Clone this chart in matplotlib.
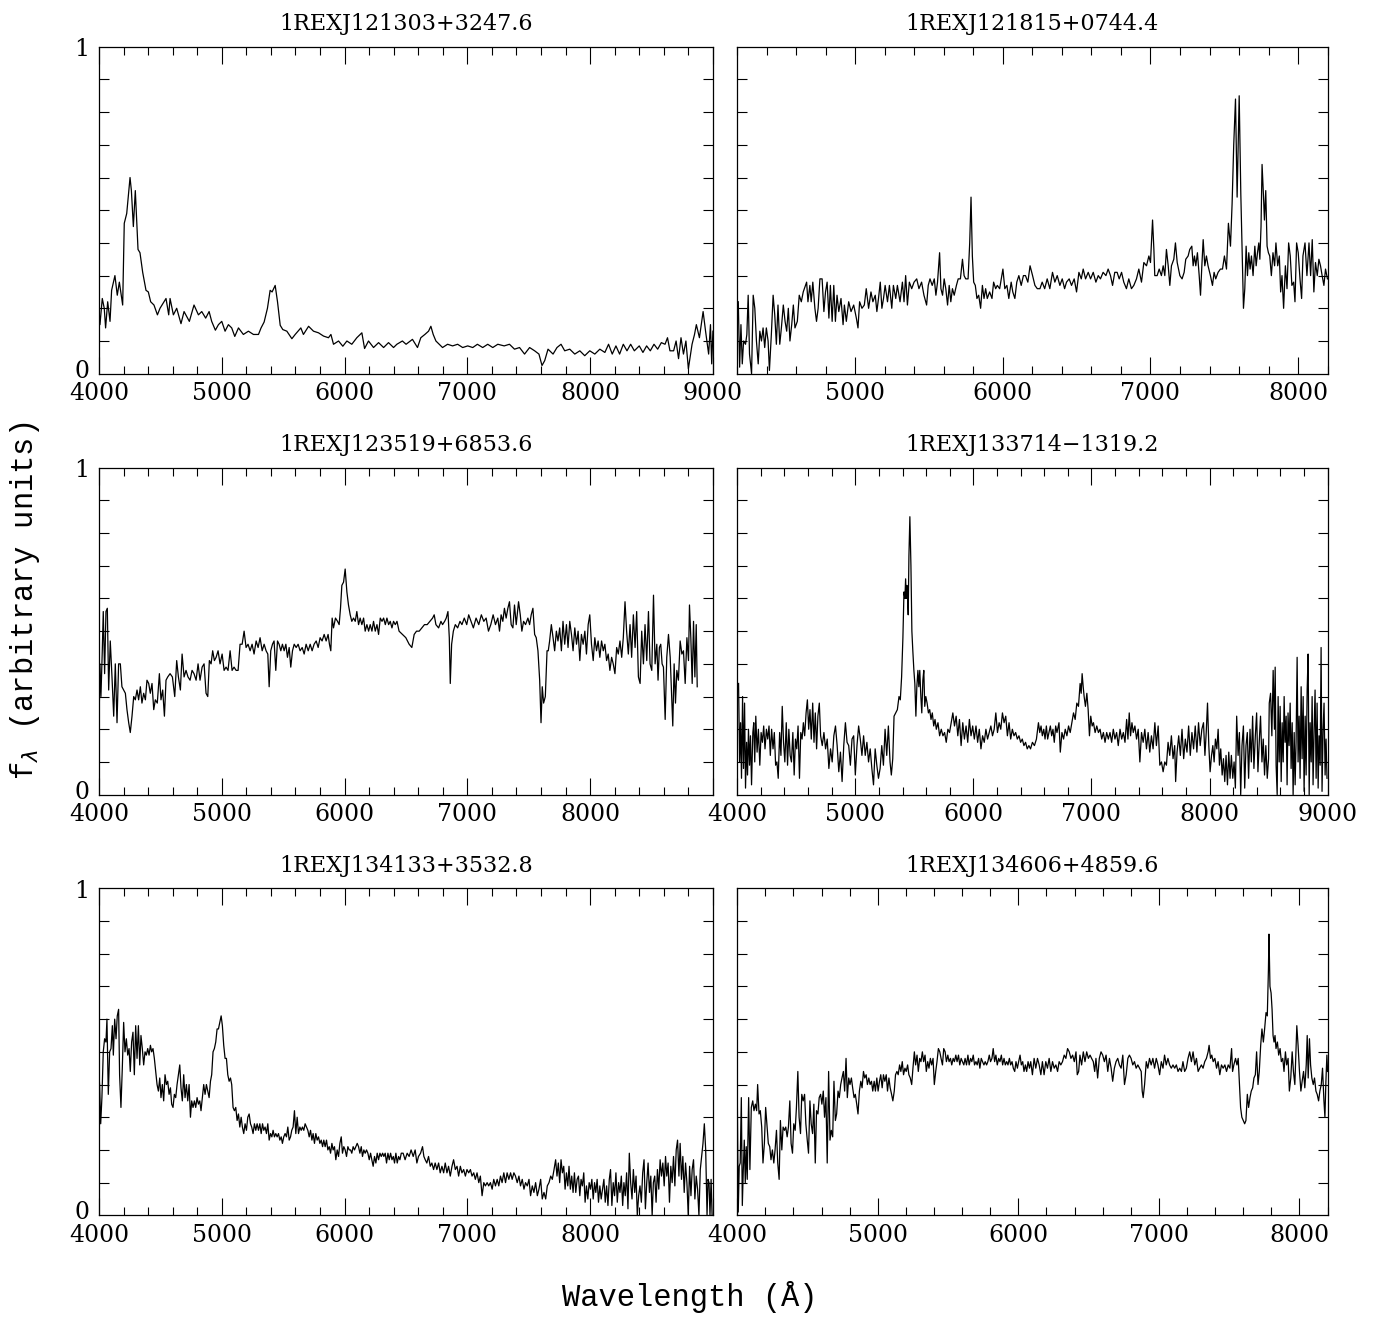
import matplotlib
matplotlib.use("Agg")
import matplotlib.pyplot as plt
from matplotlib.ticker import MultipleLocator

# ---- data (normalised flux, arbitrary units) ----
names = ["1REXJ121303+3247.6", "1REXJ121815+0744.4",
         "1REXJ123519+6853.6", "1REXJ133714\u22121319.2",
         "1REXJ134133+3532.8", "1REXJ134606+4859.6"]

xlims = [(4000, 9000), (4200, 8200), (4000, 9000), (4000, 9000), (4000, 9000), (4000, 8200)]
xticklabels = [[4000, 5000, 6000, 7000, 8000, 9000], [5000, 6000, 7000, 8000],
               [4000, 5000, 6000, 7000, 8000], [4000, 5000, 6000, 7000, 8000, 9000],
               [4000, 5000, 6000, 7000, 8000], [4000, 5000, 6000, 7000, 8000]]

wl_a = [4000, 4008, 4027, 4043, 4054, 4071, 4090, 4103, 4130, 4149, 4166, 4193, 4206, 4226, 4253, 4264,
        4280, 4296, 4318, 4334, 4356, 4383, 4402, 4421, 4448, 4476, 4497, 4546, 4568, 4579, 4606, 4633,
        4668, 4693, 4736, 4774, 4810, 4837, 4869, 4897, 4918, 4948, 4973, 5000, 5027, 5054, 5081, 5106,
        5136, 5176, 5217, 5258, 5299, 5320, 5345, 5372, 5394, 5410, 5435, 5454, 5476, 5497, 5530, 5571,
        5598, 5644, 5665, 5707, 5747, 5788, 5829, 5869, 5889, 5910, 5951, 5986, 6019, 6059, 6100, 6141,
        6163, 6195, 6236, 6277, 6318, 6358, 6399, 6426, 6471, 6501, 6553, 6594, 6621, 6654, 6684, 6703,
        6722, 6744, 6771, 6798, 6839, 6880, 6921, 6962, 7003, 7044, 7082, 7125, 7166, 7207, 7248, 7300,
        7343, 7384, 7425, 7466, 7507, 7548, 7583, 7608, 7630, 7657, 7698, 7730, 7763, 7793, 7834, 7875,
        7916, 7956, 7997, 8038, 8079, 8120, 8150, 8180, 8210, 8240, 8270, 8300, 8330, 8360, 8400, 8430,
        8460, 8490, 8520, 8550, 8580, 8610, 8630, 8650, 8680, 8700, 8720, 8740, 8760, 8780, 8800, 8830,
        8850, 8865, 8890, 8920, 8940, 8965, 8980, 8990, 9000]
fl_a = [0.20, 0.15, 0.23, 0.20, 0.14, 0.22, 0.16, 0.255, 0.30, 0.24, 0.28, 0.21, 0.46, 0.49, 0.60, 0.56,
        0.45, 0.56, 0.38, 0.37, 0.31, 0.255, 0.25, 0.22, 0.21, 0.18, 0.20, 0.23, 0.18, 0.23, 0.18, 0.20,
        0.153, 0.19, 0.16, 0.21, 0.18, 0.19, 0.17, 0.19, 0.16, 0.133, 0.15, 0.16, 0.13, 0.15, 0.14, 0.114,
        0.14, 0.12, 0.13, 0.12, 0.12, 0.14, 0.158, 0.20, 0.255, 0.25, 0.27, 0.22, 0.148, 0.135, 0.13, 0.107,
        0.12, 0.14, 0.12, 0.145, 0.13, 0.125, 0.115, 0.11, 0.12, 0.09, 0.10, 0.084, 0.10, 0.09, 0.11, 0.125,
        0.077, 0.10, 0.08, 0.095, 0.08, 0.095, 0.08, 0.09, 0.10, 0.09, 0.105, 0.08, 0.11, 0.12, 0.13, 0.145,
        0.12, 0.10, 0.09, 0.08, 0.09, 0.085, 0.09, 0.08, 0.085, 0.08, 0.09, 0.08, 0.09, 0.08, 0.09, 0.085,
        0.09, 0.075, 0.08, 0.06, 0.08, 0.07, 0.06, 0.025, 0.04, 0.075, 0.06, 0.08, 0.09, 0.07, 0.075, 0.06,
        0.07, 0.055, 0.07, 0.06, 0.075, 0.065, 0.09, 0.06, 0.085, 0.06, 0.09, 0.07, 0.09, 0.07, 0.085, 0.065,
        0.085, 0.07, 0.09, 0.075, 0.095, 0.09, 0.11, 0.07, 0.07, 0.10, 0.046, 0.11, 0.06, 0.10, 0.015, 0.09,
        0.12, 0.15, 0.11, 0.19, 0.13, 0.06, 0.15, 0.03, 0.13]

wl_b = [4207, 4216, 4225, 4234, 4243, 4256, 4265, 4274, 4283, 4297, 4308, 4319, 4330, 4342, 4353, 4364,
        4375, 4386, 4397, 4409, 4418, 4431, 4443, 4454, 4465, 4476, 4488, 4499, 4512, 4524, 4535, 4546,
        4557, 4569, 4580, 4591, 4607, 4620, 4634, 4647, 4670, 4679, 4692, 4701, 4712, 4726, 4737, 4748,
        4760, 4775, 4787, 4798, 4809, 4821, 4831, 4843, 4854, 4865, 4876, 4888, 4903, 4917, 4926, 4939,
        4955, 4971, 4989, 5007, 5018, 5029, 5045, 5061, 5074, 5090, 5106, 5119, 5135, 5146, 5157, 5169,
        5180, 5191, 5202, 5218, 5231, 5247, 5258, 5274, 5285, 5303, 5319, 5330, 5341, 5353, 5366, 5382,
        5398, 5416, 5431, 5449, 5465, 5483, 5494, 5506, 5521, 5535, 5546, 5557, 5571, 5580, 5591, 5602,
        5613, 5625, 5636, 5647, 5658, 5670, 5685, 5697, 5712, 5726, 5737, 5748, 5764, 5775, 5784, 5793,
        5802, 5813, 5824, 5836, 5849, 5861, 5872, 5883, 5894, 5910, 5926, 5937, 5951, 5962, 5978, 5989,
        6000, 6013, 6027, 6040, 6056, 6067, 6081, 6094, 6108, 6124, 6139, 6153, 6169, 6184, 6201, 6217,
        6233, 6251, 6266, 6283, 6300, 6318, 6336, 6352, 6368, 6386, 6402, 6418, 6431, 6449, 6465, 6483,
        6499, 6515, 6531, 6544, 6560, 6578, 6594, 6612, 6630, 6646, 6661, 6679, 6698, 6713, 6729, 6743,
        6758, 6774, 6788, 6804, 6819, 6837, 6853, 6871, 6887, 6905, 6921, 6939, 6955, 6973, 6989, 7000,
        7014, 7023, 7029, 7045, 7059, 7074, 7086, 7097, 7108, 7120, 7131, 7142, 7158, 7169, 7181, 7199,
        7214, 7228, 7239, 7255, 7266, 7280, 7289, 7298, 7307, 7318, 7330, 7339, 7348, 7357, 7368, 7379,
        7390, 7406, 7420, 7431, 7442, 7458, 7474, 7488, 7501, 7515, 7528, 7542, 7553, 7564, 7576, 7587,
        7601, 7612, 7621, 7630, 7639, 7648, 7657, 7666, 7675, 7684, 7695, 7707, 7716, 7725, 7734, 7741,
        7749, 7756, 7765, 7772, 7781, 7790, 7799, 7808, 7819, 7830, 7841, 7850, 7862, 7873, 7882, 7891,
        7902, 7914, 7925, 7936, 7947, 7958, 7970, 7979, 7990, 8001, 8013, 8024, 8033, 8047, 8060, 8074,
        8085, 8096, 8107, 8118, 8130, 8141, 8152, 8163, 8175, 8186, 8199]
fl_b = [0.22, 0.02, 0.15, 0.03, 0.10, 0.09, 0.12, 0.24, 0.06, 0.00, 0.24, 0.20, 0.10, 0.03, 0.13, 0.10,
        0.14, 0.08, 0.14, 0.10, 0.01, 0.12, 0.24, 0.18, 0.09, 0.21, 0.09, 0.14, 0.21, 0.16, 0.13, 0.20,
        0.10, 0.15, 0.21, 0.14, 0.16, 0.24, 0.22, 0.25, 0.28, 0.22, 0.27, 0.22, 0.28, 0.20, 0.16, 0.20,
        0.29, 0.29, 0.19, 0.25, 0.28, 0.17, 0.27, 0.16, 0.27, 0.16, 0.24, 0.19, 0.23, 0.15, 0.21, 0.16,
        0.22, 0.19, 0.21, 0.17, 0.14, 0.22, 0.20, 0.21, 0.26, 0.20, 0.25, 0.22, 0.24, 0.19, 0.23, 0.28,
        0.20, 0.23, 0.27, 0.22, 0.27, 0.20, 0.27, 0.23, 0.27, 0.22, 0.28, 0.22, 0.30, 0.21, 0.28, 0.26,
        0.28, 0.29, 0.26, 0.28, 0.24, 0.21, 0.27, 0.29, 0.27, 0.29, 0.24, 0.28, 0.37, 0.26, 0.24, 0.29,
        0.26, 0.21, 0.27, 0.22, 0.26, 0.24, 0.27, 0.29, 0.29, 0.35, 0.30, 0.29, 0.29, 0.40, 0.54, 0.36,
        0.28, 0.27, 0.23, 0.24, 0.20, 0.27, 0.23, 0.26, 0.23, 0.25, 0.23, 0.28, 0.26, 0.27, 0.26, 0.29,
        0.32, 0.26, 0.27, 0.23, 0.28, 0.25, 0.23, 0.28, 0.30, 0.27, 0.30, 0.30, 0.28, 0.33, 0.30, 0.27,
        0.26, 0.26, 0.28, 0.26, 0.29, 0.26, 0.31, 0.28, 0.30, 0.27, 0.29, 0.26, 0.28, 0.29, 0.27, 0.29,
        0.25, 0.31, 0.29, 0.32, 0.29, 0.31, 0.29, 0.31, 0.28, 0.30, 0.29, 0.31, 0.30, 0.32, 0.30, 0.27,
        0.31, 0.31, 0.29, 0.31, 0.28, 0.26, 0.29, 0.26, 0.27, 0.29, 0.32, 0.28, 0.34, 0.33, 0.36, 0.34,
        0.47, 0.38, 0.30, 0.30, 0.32, 0.30, 0.33, 0.30, 0.38, 0.33, 0.27, 0.33, 0.35, 0.40, 0.34, 0.30,
        0.29, 0.31, 0.35, 0.36, 0.38, 0.39, 0.33, 0.36, 0.33, 0.37, 0.30, 0.24, 0.33, 0.41, 0.33, 0.36,
        0.33, 0.30, 0.27, 0.31, 0.29, 0.31, 0.32, 0.32, 0.36, 0.32, 0.46, 0.39, 0.52, 0.70, 0.84, 0.54,
        0.85, 0.55, 0.37, 0.20, 0.26, 0.39, 0.30, 0.37, 0.32, 0.36, 0.30, 0.39, 0.33, 0.37, 0.40, 0.35,
        0.45, 0.64, 0.55, 0.47, 0.56, 0.39, 0.37, 0.36, 0.30, 0.37, 0.33, 0.40, 0.33, 0.36, 0.25, 0.30,
        0.20, 0.33, 0.26, 0.40, 0.36, 0.27, 0.28, 0.22, 0.40, 0.37, 0.29, 0.23, 0.36, 0.40, 0.30, 0.40,
        0.30, 0.41, 0.25, 0.34, 0.30, 0.35, 0.33, 0.30, 0.27, 0.32, 0.29]

wl_c = [4000, 4008, 4016, 4027, 4035, 4046, 4057, 4068, 4079, 4092, 4106, 4120, 4133, 4147, 4160, 4174,
        4187, 4201, 4215, 4228, 4242, 4255, 4269, 4283, 4296, 4310, 4323, 4337, 4350, 4364, 4378, 4391,
        4405, 4418, 4432, 4446, 4459, 4475, 4492, 4505, 4519, 4533, 4546, 4560, 4579, 4598, 4617, 4633,
        4647, 4663, 4677, 4693, 4709, 4725, 4742, 4758, 4774, 4791, 4807, 4823, 4840, 4856, 4872, 4886,
        4899, 4913, 4926, 4940, 4954, 4970, 4986, 5003, 5019, 5035, 5051, 5068, 5084, 5100, 5117, 5133,
        5149, 5166, 5182, 5198, 5214, 5231, 5247, 5263, 5280, 5296, 5312, 5329, 5345, 5361, 5375, 5386,
        5399, 5413, 5426, 5440, 5454, 5467, 5481, 5494, 5508, 5522, 5535, 5549, 5562, 5576, 5590, 5606,
        5622, 5638, 5655, 5671, 5687, 5704, 5720, 5736, 5752, 5769, 5785, 5801, 5817, 5834, 5850, 5866,
        5877, 5888, 5899, 5910, 5926, 5943, 5956, 5967, 5978, 5992, 6005, 6019, 6032, 6046, 6059, 6073,
        6087, 6100, 6114, 6127, 6141, 6155, 6168, 6182, 6196, 6209, 6223, 6236, 6250, 6264, 6277, 6291,
        6305, 6318, 6332, 6345, 6359, 6372, 6386, 6399, 6413, 6427, 6444, 6471, 6499, 6526, 6548, 6567,
        6586, 6608, 6629, 6651, 6673, 6695, 6717, 6730, 6744, 6766, 6785, 6798, 6815, 6828, 6842, 6853,
        6861, 6872, 6886, 6902, 6921, 6940, 6956, 6975, 6995, 7011, 7030, 7049, 7071, 7093, 7114, 7134,
        7153, 7172, 7191, 7210, 7229, 7248, 7262, 7275, 7289, 7302, 7316, 7330, 7343, 7357, 7371, 7384,
        7398, 7417, 7431, 7444, 7458, 7474, 7493, 7507, 7520, 7534, 7548, 7561, 7575, 7589, 7600, 7610,
        7621, 7635, 7649, 7659, 7670, 7684, 7698, 7711, 7725, 7738, 7752, 7766, 7779, 7793, 7807, 7820,
        7834, 7848, 7861, 7875, 7889, 7902, 7916, 7929, 7943, 7957, 7970, 7984, 7997, 8011, 8025, 8038,
        8052, 8065, 8079, 8093, 8107, 8120, 8134, 8147, 8161, 8175, 8188, 8202, 8216, 8229, 8243, 8257,
        8270, 8284, 8297, 8311, 8325, 8338, 8352, 8366, 8379, 8393, 8407, 8420, 8434, 8447, 8461, 8475,
        8488, 8502, 8516, 8529, 8543, 8553, 8564, 8575, 8586, 8597, 8611, 8624, 8638, 8652, 8662, 8673,
        8684, 8695, 8706, 8719, 8733, 8747, 8760, 8774, 8788, 8801, 8809, 8820, 8831, 8842, 8853, 8864,
        8872]
fl_c = [0.20, 0.40, 0.30, 0.44, 0.56, 0.37, 0.56, 0.57, 0.32, 0.47, 0.36, 0.24, 0.40, 0.22, 0.40, 0.40,
        0.33, 0.32, 0.31, 0.26, 0.22, 0.19, 0.24, 0.30, 0.29, 0.32, 0.29, 0.33, 0.28, 0.31, 0.29, 0.35,
        0.34, 0.31, 0.34, 0.26, 0.29, 0.28, 0.37, 0.29, 0.32, 0.24, 0.35, 0.36, 0.37, 0.36, 0.30, 0.41,
        0.36, 0.32, 0.43, 0.36, 0.38, 0.36, 0.35, 0.38, 0.37, 0.35, 0.40, 0.35, 0.39, 0.40, 0.31, 0.30,
        0.41, 0.40, 0.44, 0.41, 0.42, 0.44, 0.40, 0.43, 0.38, 0.39, 0.38, 0.44, 0.38, 0.39, 0.38, 0.38,
        0.46, 0.46, 0.50, 0.45, 0.46, 0.44, 0.46, 0.43, 0.47, 0.45, 0.48, 0.44, 0.46, 0.44, 0.43, 0.33,
        0.44, 0.46, 0.47, 0.38, 0.47, 0.46, 0.44, 0.46, 0.44, 0.46, 0.42, 0.45, 0.39, 0.44, 0.46, 0.45,
        0.46, 0.44, 0.45, 0.43, 0.46, 0.44, 0.46, 0.44, 0.46, 0.47, 0.45, 0.48, 0.47, 0.49, 0.47, 0.49,
        0.46, 0.44, 0.54, 0.51, 0.54, 0.53, 0.52, 0.57, 0.64, 0.65, 0.69, 0.62, 0.58, 0.55, 0.53, 0.54,
        0.53, 0.56, 0.52, 0.54, 0.52, 0.54, 0.50, 0.52, 0.50, 0.52, 0.50, 0.53, 0.50, 0.52, 0.49, 0.54,
        0.53, 0.54, 0.52, 0.54, 0.52, 0.53, 0.51, 0.53, 0.52, 0.53, 0.50, 0.49, 0.48, 0.46, 0.45, 0.49,
        0.50, 0.50, 0.51, 0.52, 0.52, 0.53, 0.54, 0.55, 0.52, 0.51, 0.53, 0.52, 0.53, 0.54, 0.56, 0.48,
        0.34, 0.46, 0.50, 0.52, 0.51, 0.53, 0.52, 0.54, 0.52, 0.55, 0.53, 0.51, 0.54, 0.52, 0.55, 0.53,
        0.54, 0.50, 0.52, 0.55, 0.52, 0.54, 0.50, 0.55, 0.53, 0.57, 0.54, 0.57, 0.59, 0.52, 0.51, 0.58,
        0.52, 0.59, 0.55, 0.50, 0.53, 0.52, 0.54, 0.52, 0.55, 0.57, 0.49, 0.48, 0.44, 0.35, 0.22, 0.33,
        0.28, 0.30, 0.44, 0.44, 0.47, 0.52, 0.48, 0.44, 0.50, 0.47, 0.51, 0.44, 0.53, 0.46, 0.52, 0.45,
        0.53, 0.49, 0.44, 0.51, 0.46, 0.50, 0.41, 0.49, 0.46, 0.50, 0.43, 0.52, 0.55, 0.46, 0.41, 0.48,
        0.44, 0.47, 0.42, 0.47, 0.44, 0.46, 0.41, 0.43, 0.38, 0.42, 0.40, 0.37, 0.45, 0.43, 0.47, 0.42,
        0.48, 0.59, 0.50, 0.43, 0.52, 0.42, 0.55, 0.45, 0.56, 0.36, 0.34, 0.50, 0.40, 0.52, 0.41, 0.56,
        0.40, 0.38, 0.61, 0.40, 0.46, 0.35, 0.45, 0.46, 0.40, 0.39, 0.23, 0.42, 0.49, 0.42, 0.32, 0.21,
        0.40, 0.28, 0.38, 0.35, 0.47, 0.43, 0.44, 0.34, 0.48, 0.41, 0.58, 0.48, 0.34, 0.53, 0.36, 0.52,
        0.33]

wl_d = [4011, 4020, 4028, 4036, 4045, 4053, 4062, 4070, 4079, 4087, 4095, 4104, 4112, 4121, 4132, 4140,
        4148, 4157, 4168, 4179, 4191, 4202, 4213, 4224, 4235, 4247, 4258, 4269, 4280, 4291, 4303, 4314,
        4325, 4336, 4347, 4359, 4370, 4381, 4392, 4403, 4415, 4426, 4437, 4448, 4459, 4471, 4482, 4493,
        4504, 4515, 4527, 4538, 4549, 4560, 4571, 4583, 4594, 4605, 4616, 4627, 4639, 4650, 4661, 4672,
        4683, 4695, 4706, 4720, 4734, 4748, 4762, 4776, 4790, 4804, 4818, 4832, 4846, 4860, 4874, 4888,
        4902, 4916, 4930, 4944, 4958, 4972, 4986, 5000, 5014, 5028, 5042, 5056, 5070, 5084, 5098, 5112,
        5126, 5140, 5154, 5168, 5182, 5196, 5210, 5224, 5238, 5252, 5266, 5280, 5294, 5305, 5317, 5328,
        5342, 5356, 5370, 5381, 5392, 5403, 5412, 5420, 5426, 5431, 5437, 5442, 5448, 5454, 5462, 5471,
        5479, 5487, 5496, 5504, 5513, 5521, 5530, 5538, 5546, 5555, 5563, 5572, 5580, 5588, 5597, 5608,
        5619, 5630, 5641, 5652, 5664, 5675, 5686, 5700, 5714, 5728, 5742, 5756, 5770, 5784, 5798, 5812,
        5826, 5840, 5854, 5868, 5882, 5896, 5910, 5924, 5938, 5952, 5966, 5980, 5994, 6008, 6022, 6036,
        6050, 6064, 6078, 6092, 6106, 6120, 6134, 6148, 6162, 6176, 6190, 6204, 6218, 6232, 6246, 6260,
        6274, 6288, 6302, 6316, 6330, 6344, 6358, 6372, 6386, 6400, 6414, 6428, 6442, 6456, 6470, 6484,
        6500, 6517, 6534, 6551, 6562, 6573, 6584, 6596, 6607, 6618, 6629, 6640, 6652, 6663, 6674, 6685,
        6697, 6708, 6725, 6736, 6750, 6764, 6778, 6792, 6806, 6820, 6834, 6848, 6862, 6876, 6890, 6904,
        6913, 6921, 6930, 6938, 6949, 6961, 6972, 6983, 6994, 7006, 7017, 7031, 7045, 7059, 7073, 7087,
        7101, 7115, 7129, 7143, 7157, 7171, 7185, 7199, 7213, 7227, 7242, 7256, 7270, 7284, 7298, 7309,
        7320, 7331, 7343, 7354, 7368, 7382, 7396, 7410, 7424, 7438, 7452, 7466, 7480, 7494, 7508, 7522,
        7537, 7550, 7565, 7579, 7593, 7607, 7621, 7635, 7649, 7663, 7677, 7691, 7705, 7713, 7725, 7739,
        7753, 7767, 7781, 7795, 7809, 7823, 7837, 7851, 7865, 7879, 7893, 7907, 7921, 7935, 7949, 7961,
        7972, 7983, 7994, 8005, 8017, 8028, 8039, 8050, 8062, 8073, 8084, 8095, 8107, 8118, 8129, 8140,
        8152, 8163, 8174, 8185, 8197, 8208, 8219, 8230, 8242, 8253, 8264, 8275, 8287, 8298, 8309, 8320,
        8331, 8343, 8354, 8365, 8376, 8388, 8399, 8410, 8421, 8432, 8444, 8455, 8466, 8477, 8489, 8500,
        8506, 8517, 8528, 8539, 8550, 8556, 8564, 8573, 8581, 8590, 8598, 8607, 8615, 8624, 8632, 8640,
        8649, 8657, 8665, 8674, 8683, 8691, 8700, 8708, 8717, 8725, 8733, 8742, 8750, 8759, 8767, 8776,
        8784, 8793, 8801, 8810, 8818, 8827, 8835, 8844, 8852, 8861, 8869, 8877, 8886, 8894, 8903, 8911,
        8920, 8928, 8937, 8945, 8953, 8962, 8970, 8979, 8987, 8995]
fl_d = [0.34, 0.10, 0.22, 0.05, 0.30, 0.08, 0.28, 0.02, 0.16, 0.06, 0.20, 0.09, 0.18, 0.03, 0.19, 0.22,
        0.10, 0.24, 0.13, 0.20, 0.09, 0.19, 0.16, 0.21, 0.14, 0.20, 0.17, 0.21, 0.12, 0.20, 0.14, 0.19,
        0.09, 0.10, 0.05, 0.19, 0.12, 0.27, 0.16, 0.10, 0.22, 0.09, 0.20, 0.12, 0.10, 0.19, 0.06, 0.17,
        0.14, 0.21, 0.05, 0.19, 0.17, 0.22, 0.18, 0.25, 0.29, 0.20, 0.26, 0.17, 0.28, 0.16, 0.25, 0.14,
        0.24, 0.28, 0.18, 0.15, 0.19, 0.14, 0.17, 0.08, 0.14, 0.10, 0.18, 0.21, 0.15, 0.07, 0.13, 0.04,
        0.15, 0.22, 0.16, 0.15, 0.09, 0.17, 0.18, 0.06, 0.15, 0.21, 0.17, 0.12, 0.18, 0.12, 0.16, 0.10,
        0.14, 0.08, 0.03, 0.14, 0.09, 0.05, 0.08, 0.15, 0.09, 0.20, 0.12, 0.21, 0.10, 0.06, 0.11, 0.24,
        0.25, 0.26, 0.30, 0.29, 0.36, 0.48, 0.62, 0.60, 0.66, 0.60, 0.64, 0.61, 0.55, 0.73, 0.85, 0.70,
        0.50, 0.44, 0.38, 0.34, 0.24, 0.33, 0.38, 0.33, 0.38, 0.30, 0.25, 0.35, 0.38, 0.27, 0.30, 0.28,
        0.25, 0.26, 0.23, 0.25, 0.21, 0.23, 0.20, 0.22, 0.18, 0.20, 0.18, 0.19, 0.16, 0.20, 0.19, 0.22,
        0.25, 0.21, 0.24, 0.18, 0.23, 0.15, 0.22, 0.17, 0.21, 0.16, 0.23, 0.18, 0.21, 0.17, 0.21, 0.16,
        0.20, 0.14, 0.18, 0.16, 0.20, 0.17, 0.19, 0.21, 0.18, 0.20, 0.25, 0.19, 0.22, 0.20, 0.25, 0.22,
        0.24, 0.18, 0.22, 0.17, 0.20, 0.18, 0.19, 0.17, 0.18, 0.16, 0.17, 0.15, 0.16, 0.14, 0.15, 0.14,
        0.16, 0.15, 0.17, 0.22, 0.19, 0.21, 0.18, 0.20, 0.17, 0.21, 0.17, 0.19, 0.21, 0.18, 0.20, 0.16,
        0.21, 0.19, 0.22, 0.13, 0.19, 0.17, 0.20, 0.18, 0.21, 0.19, 0.22, 0.25, 0.23, 0.28, 0.27, 0.34,
        0.31, 0.37, 0.33, 0.30, 0.27, 0.31, 0.26, 0.18, 0.24, 0.21, 0.22, 0.19, 0.21, 0.19, 0.20, 0.17,
        0.19, 0.16, 0.19, 0.17, 0.19, 0.16, 0.20, 0.17, 0.19, 0.15, 0.20, 0.17, 0.19, 0.16, 0.23, 0.17,
        0.25, 0.18, 0.22, 0.19, 0.21, 0.17, 0.20, 0.10, 0.19, 0.16, 0.20, 0.14, 0.19, 0.13, 0.18, 0.14,
        0.22, 0.15, 0.21, 0.09, 0.10, 0.07, 0.10, 0.09, 0.16, 0.12, 0.18, 0.11, 0.15, 0.04, 0.13, 0.18,
        0.12, 0.20, 0.11, 0.17, 0.13, 0.21, 0.12, 0.19, 0.14, 0.21, 0.13, 0.22, 0.15, 0.20, 0.22, 0.12,
        0.19, 0.28, 0.15, 0.07, 0.12, 0.15, 0.10, 0.17, 0.14, 0.20, 0.09, 0.14, 0.06, 0.11, 0.04, 0.12,
        0.03, 0.13, 0.05, 0.12, 0.05, 0.10, 0.02, 0.24, 0.12, 0.19, 0.00, 0.15, 0.21, 0.02, 0.15, 0.19,
        0.05, 0.20, 0.10, 0.24, 0.08, 0.18, 0.25, 0.07, 0.16, 0.24, 0.10, 0.17, 0.06, 0.15, 0.05, 0.11,
        0.28, 0.31, 0.18, 0.38, 0.20, 0.39, 0.09, 0.00, 0.30, 0.10, 0.27, 0.04, 0.22, 0.10, 0.30, 0.16,
        0.24, 0.03, 0.25, 0.15, 0.28, 0.08, 0.22, 0.00, 0.19, 0.03, 0.16, 0.42, 0.10, 0.24, 0.05, 0.33,
        0.11, 0.30, 0.01, 0.24, 0.06, 0.32, 0.43, 0.00, 0.22, 0.10, 0.30, 0.03, 0.20, 0.32, 0.05, 0.28,
        0.02, 0.18, 0.09, 0.45, 0.01, 0.20, 0.28, 0.06, 0.17, 0.05]

wl_e = [4000, 4005, 4014, 4024, 4035, 4046, 4057, 4065, 4076, 4087, 4098, 4109, 4117, 4128, 4139, 4149,
        4160, 4168, 4179, 4190, 4201, 4212, 4223, 4234, 4245, 4255, 4266, 4277, 4288, 4299, 4310, 4321,
        4332, 4342, 4353, 4364, 4375, 4386, 4397, 4408, 4419, 4429, 4440, 4451, 4462, 4473, 4484, 4495,
        4505, 4516, 4527, 4538, 4549, 4560, 4571, 4582, 4592, 4603, 4614, 4625, 4636, 4647, 4658, 4668,
        4679, 4690, 4701, 4712, 4723, 4734, 4745, 4755, 4766, 4777, 4788, 4799, 4810, 4821, 4831, 4842,
        4853, 4864, 4875, 4886, 4897, 4908, 4918, 4929, 4940, 4951, 4962, 4973, 4984, 4995, 5005, 5016,
        5027, 5038, 5049, 5060, 5071, 5081, 5092, 5103, 5114, 5125, 5136, 5147, 5158, 5168, 5179, 5190,
        5201, 5212, 5223, 5234, 5244, 5255, 5266, 5277, 5288, 5299, 5310, 5321, 5332, 5342, 5353, 5364,
        5375, 5386, 5397, 5408, 5418, 5429, 5440, 5451, 5462, 5473, 5484, 5494, 5505, 5516, 5527, 5538,
        5549, 5560, 5570, 5581, 5592, 5603, 5614, 5625, 5636, 5647, 5657, 5668, 5679, 5690, 5701, 5712,
        5723, 5734, 5744, 5755, 5766, 5777, 5788, 5799, 5810, 5821, 5831, 5842, 5853, 5864, 5875, 5886,
        5897, 5907, 5918, 5929, 5940, 5951, 5962, 5973, 5983, 5994, 6005, 6016, 6027, 6038, 6049, 6059,
        6070, 6081, 6092, 6103, 6114, 6125, 6136, 6146, 6157, 6168, 6179, 6190, 6201, 6212, 6222, 6233,
        6244, 6255, 6266, 6277, 6288, 6299, 6310, 6320, 6331, 6342, 6353, 6364, 6375, 6386, 6397, 6407,
        6418, 6429, 6440, 6451, 6462, 6477, 6493, 6510, 6526, 6542, 6559, 6575, 6589, 6602, 6619, 6635,
        6646, 6657, 6670, 6684, 6698, 6711, 6725, 6738, 6752, 6766, 6779, 6793, 6807, 6820, 6834, 6847,
        6861, 6875, 6888, 6902, 6916, 6929, 6943, 6956, 6970, 6984, 6997, 7011, 7025, 7038, 7052, 7065,
        7079, 7093, 7106, 7120, 7134, 7147, 7161, 7174, 7188, 7202, 7215, 7229, 7243, 7256, 7270, 7283,
        7297, 7311, 7324, 7338, 7352, 7365, 7379, 7392, 7406, 7420, 7433, 7447, 7461, 7474, 7488, 7502,
        7515, 7529, 7542, 7556, 7570, 7583, 7597, 7610, 7624, 7638, 7651, 7665, 7679, 7692, 7706, 7719,
        7730, 7741, 7752, 7763, 7774, 7785, 7796, 7807, 7818, 7828, 7839, 7850, 7861, 7872, 7883, 7894,
        7905, 7916, 7926, 7937, 7948, 7959, 7970, 7981, 7992, 8003, 8014, 8025, 8036, 8046, 8057, 8068,
        8079, 8090, 8101, 8112, 8123, 8134, 8145, 8156, 8166, 8177, 8188, 8199, 8210, 8221, 8232, 8243,
        8254, 8265, 8275, 8286, 8297, 8308, 8319, 8330, 8341, 8352, 8363, 8374, 8384, 8395, 8406, 8417,
        8428, 8439, 8450, 8461, 8472, 8483, 8494, 8505, 8515, 8526, 8537, 8548, 8559, 8570, 8581, 8592,
        8603, 8614, 8624, 8635, 8646, 8657, 8668, 8679, 8690, 8701, 8712, 8723, 8733, 8744, 8755, 8766,
        8777, 8788, 8799, 8810, 8821, 8831, 8842, 8853, 8864, 8875, 8886, 8897, 8908, 8919, 8930, 8941,
        8952, 8960, 8968, 8976, 8985, 8993]
fl_e = [0.43, 0.40, 0.28, 0.36, 0.50, 0.54, 0.53, 0.60, 0.37, 0.50, 0.51, 0.58, 0.49, 0.60, 0.54, 0.61,
        0.63, 0.43, 0.33, 0.45, 0.59, 0.50, 0.54, 0.49, 0.51, 0.44, 0.53, 0.56, 0.43, 0.58, 0.48, 0.58,
        0.46, 0.55, 0.51, 0.46, 0.50, 0.49, 0.51, 0.49, 0.52, 0.50, 0.51, 0.48, 0.44, 0.40, 0.38, 0.42,
        0.36, 0.40, 0.35, 0.43, 0.40, 0.41, 0.37, 0.39, 0.34, 0.33, 0.37, 0.36, 0.40, 0.43, 0.46, 0.39,
        0.35, 0.43, 0.36, 0.40, 0.35, 0.40, 0.30, 0.35, 0.33, 0.35, 0.33, 0.36, 0.34, 0.35, 0.32, 0.36,
        0.40, 0.37, 0.40, 0.38, 0.36, 0.41, 0.43, 0.50, 0.51, 0.53, 0.57, 0.57, 0.59, 0.61, 0.58, 0.52,
        0.48, 0.48, 0.43, 0.41, 0.42, 0.40, 0.33, 0.32, 0.33, 0.29, 0.31, 0.27, 0.30, 0.27, 0.25, 0.28,
        0.26, 0.30, 0.31, 0.28, 0.27, 0.25, 0.28, 0.26, 0.28, 0.26, 0.28, 0.25, 0.28, 0.26, 0.27, 0.25,
        0.28, 0.23, 0.25, 0.24, 0.26, 0.24, 0.25, 0.24, 0.25, 0.23, 0.24, 0.22, 0.24, 0.25, 0.24, 0.27,
        0.23, 0.24, 0.26, 0.27, 0.32, 0.25, 0.30, 0.25, 0.27, 0.26, 0.27, 0.26, 0.28, 0.27, 0.26, 0.24,
        0.26, 0.23, 0.25, 0.22, 0.25, 0.23, 0.24, 0.22, 0.23, 0.21, 0.23, 0.21, 0.23, 0.20, 0.21, 0.19,
        0.22, 0.20, 0.21, 0.17, 0.20, 0.18, 0.22, 0.24, 0.19, 0.21, 0.20, 0.18, 0.21, 0.20, 0.20, 0.19,
        0.21, 0.20, 0.21, 0.22, 0.21, 0.19, 0.21, 0.18, 0.20, 0.19, 0.20, 0.19, 0.17, 0.19, 0.17, 0.15,
        0.18, 0.16, 0.19, 0.17, 0.19, 0.18, 0.19, 0.18, 0.19, 0.16, 0.19, 0.17, 0.19, 0.17, 0.18, 0.16,
        0.19, 0.16, 0.18, 0.17, 0.19, 0.19, 0.17, 0.19, 0.18, 0.20, 0.18, 0.20, 0.16, 0.18, 0.19, 0.21,
        0.18, 0.17, 0.16, 0.18, 0.15, 0.16, 0.14, 0.16, 0.14, 0.16, 0.13, 0.15, 0.13, 0.16, 0.13, 0.15,
        0.12, 0.15, 0.17, 0.14, 0.15, 0.12, 0.15, 0.13, 0.14, 0.12, 0.14, 0.13, 0.14, 0.12, 0.13, 0.11,
        0.13, 0.10, 0.12, 0.06, 0.10, 0.09, 0.10, 0.09, 0.10, 0.08, 0.11, 0.09, 0.11, 0.09, 0.12, 0.10,
        0.13, 0.10, 0.13, 0.11, 0.13, 0.11, 0.13, 0.12, 0.10, 0.12, 0.09, 0.11, 0.08, 0.10, 0.09, 0.11,
        0.06, 0.09, 0.07, 0.10, 0.06, 0.08, 0.11, 0.05, 0.07, 0.05, 0.09, 0.10, 0.12, 0.11, 0.14, 0.17,
        0.12, 0.16, 0.10, 0.17, 0.13, 0.15, 0.08, 0.13, 0.09, 0.15, 0.08, 0.12, 0.07, 0.13, 0.07, 0.11,
        0.12, 0.06, 0.11, 0.09, 0.13, 0.04, 0.09, 0.05, 0.10, 0.08, 0.11, 0.05, 0.10, 0.07, 0.11, 0.04,
        0.09, 0.05, 0.08, 0.11, 0.04, 0.09, 0.03, 0.11, 0.14, 0.03, 0.10, 0.06, 0.13, 0.04, 0.10, 0.07,
        0.12, 0.03, 0.10, 0.06, 0.13, 0.02, 0.19, 0.10, 0.05, 0.14, 0.07, 0.12, 0.00, 0.06, 0.09, 0.04,
        0.13, 0.17, 0.02, 0.10, 0.16, 0.07, 0.12, 0.00, 0.10, 0.12, 0.04, 0.14, 0.08, 0.17, 0.12, 0.16,
        0.09, 0.18, 0.12, 0.16, 0.04, 0.15, 0.10, 0.18, 0.09, 0.20, 0.23, 0.12, 0.22, 0.11, 0.18, 0.07,
        0.16, 0.10, 0.00, 0.15, 0.06, 0.14, 0.17, 0.05, 0.12, 0.08, 0.00, 0.14, 0.18, 0.22, 0.28, 0.20,
        0.00, 0.11, 0.10, 0.00, 0.11, 0.00]

wl_f = [4000, 4007, 4014, 4021, 4029, 4036, 4043, 4050, 4057, 4064, 4071, 4081, 4090, 4100, 4110, 4119,
        4129, 4138, 4145, 4155, 4164, 4174, 4183, 4193, 4202, 4212, 4221, 4231, 4240, 4250, 4260, 4269,
        4279, 4288, 4298, 4307, 4317, 4326, 4336, 4345, 4355, 4364, 4374, 4383, 4393, 4402, 4412, 4421,
        4431, 4440, 4450, 4459, 4469, 4479, 4488, 4498, 4507, 4517, 4526, 4536, 4545, 4555, 4564, 4574,
        4583, 4593, 4602, 4612, 4621, 4631, 4640, 4650, 4660, 4669, 4679, 4688, 4698, 4707, 4717, 4726,
        4736, 4745, 4755, 4764, 4774, 4783, 4793, 4802, 4812, 4821, 4831, 4840, 4850, 4859, 4869, 4879,
        4888, 4898, 4907, 4917, 4926, 4936, 4945, 4955, 4964, 4974, 4983, 4993, 5002, 5012, 5021, 5031,
        5040, 5050, 5060, 5069, 5079, 5088, 5098, 5107, 5117, 5126, 5136, 5145, 5155, 5164, 5174, 5183,
        5193, 5202, 5212, 5221, 5231, 5241, 5250, 5260, 5269, 5279, 5288, 5298, 5307, 5317, 5326, 5336,
        5345, 5355, 5364, 5374, 5383, 5393, 5402, 5412, 5421, 5431, 5441, 5450, 5460, 5469, 5479, 5488,
        5498, 5507, 5517, 5526, 5536, 5545, 5555, 5564, 5574, 5583, 5593, 5602, 5612, 5621, 5631, 5641,
        5650, 5660, 5669, 5679, 5688, 5698, 5707, 5717, 5726, 5736, 5745, 5755, 5764, 5774, 5783, 5793,
        5802, 5812, 5821, 5831, 5840, 5850, 5860, 5869, 5879, 5888, 5898, 5907, 5917, 5926, 5936, 5945,
        5955, 5964, 5974, 5983, 5993, 6002, 6012, 6021, 6031, 6040, 6050, 6059, 6069, 6079, 6088, 6100,
        6112, 6124, 6136, 6148, 6160, 6171, 6183, 6195, 6207, 6219, 6231, 6243, 6255, 6267, 6279, 6290,
        6302, 6314, 6326, 6338, 6350, 6362, 6374, 6386, 6398, 6410, 6419, 6429, 6438, 6450, 6462, 6474,
        6486, 6498, 6510, 6521, 6533, 6543, 6552, 6564, 6576, 6588, 6600, 6612, 6624, 6636, 6648, 6660,
        6671, 6683, 6695, 6707, 6719, 6731, 6743, 6755, 6767, 6779, 6790, 6802, 6814, 6826, 6838, 6850,
        6862, 6874, 6881, 6888, 6898, 6910, 6921, 6933, 6945, 6957, 6969, 6981, 6993, 7005, 7017, 7029,
        7040, 7052, 7064, 7076, 7088, 7100, 7112, 7124, 7136, 7148, 7160, 7171, 7183, 7195, 7207, 7219,
        7231, 7243, 7255, 7267, 7279, 7290, 7302, 7314, 7326, 7338, 7350, 7357, 7367, 7376, 7386, 7398,
        7410, 7421, 7433, 7445, 7457, 7469, 7481, 7493, 7505, 7517, 7524, 7533, 7545, 7555, 7564, 7571,
        7581, 7590, 7600, 7610, 7619, 7629, 7638, 7648, 7657, 7667, 7676, 7686, 7695, 7705, 7714, 7724,
        7733, 7743, 7752, 7762, 7771, 7779, 7783, 7790, 7798, 7805, 7812, 7819, 7826, 7833, 7843, 7852,
        7862, 7871, 7881, 7890, 7900, 7909, 7919, 7928, 7938, 7948, 7957, 7967, 7976, 7981, 7990, 8000,
        8010, 8019, 8029, 8038, 8048, 8055, 8062, 8071, 8079, 8088, 8098, 8107, 8117, 8126, 8136, 8145,
        8155, 8164, 8174, 8181, 8188, 8195, 8200]
fl_f = [0.38, 0.01, 0.15, 0.16, 0.36, 0.03, 0.14, 0.23, 0.10, 0.21, 0.11, 0.36, 0.14, 0.33, 0.35, 0.32,
        0.34, 0.32, 0.40, 0.31, 0.32, 0.27, 0.16, 0.22, 0.33, 0.27, 0.22, 0.21, 0.17, 0.20, 0.16, 0.20,
        0.26, 0.16, 0.11, 0.29, 0.20, 0.27, 0.26, 0.27, 0.24, 0.27, 0.35, 0.22, 0.19, 0.28, 0.26, 0.33,
        0.44, 0.30, 0.25, 0.37, 0.35, 0.37, 0.28, 0.23, 0.19, 0.35, 0.28, 0.25, 0.34, 0.16, 0.32, 0.31,
        0.36, 0.37, 0.34, 0.38, 0.30, 0.36, 0.16, 0.44, 0.23, 0.26, 0.24, 0.41, 0.29, 0.31, 0.38, 0.36,
        0.40, 0.42, 0.44, 0.38, 0.48, 0.36, 0.42, 0.40, 0.42, 0.39, 0.36, 0.37, 0.34, 0.31, 0.38, 0.41,
        0.39, 0.44, 0.42, 0.43, 0.40, 0.42, 0.40, 0.41, 0.38, 0.41, 0.38, 0.42, 0.38, 0.41, 0.43, 0.39,
        0.43, 0.41, 0.43, 0.38, 0.42, 0.39, 0.37, 0.35, 0.38, 0.43, 0.44, 0.43, 0.46, 0.44, 0.47, 0.43,
        0.45, 0.44, 0.46, 0.43, 0.42, 0.40, 0.45, 0.50, 0.46, 0.49, 0.44, 0.48, 0.47, 0.50, 0.47, 0.49,
        0.44, 0.47, 0.45, 0.48, 0.46, 0.48, 0.40, 0.44, 0.47, 0.51, 0.50, 0.48, 0.46, 0.51, 0.50, 0.47,
        0.49, 0.47, 0.48, 0.46, 0.48, 0.47, 0.49, 0.47, 0.49, 0.46, 0.48, 0.47, 0.46, 0.48, 0.46, 0.49,
        0.46, 0.48, 0.47, 0.49, 0.46, 0.47, 0.46, 0.48, 0.45, 0.48, 0.47, 0.46, 0.47, 0.46, 0.47, 0.49,
        0.47, 0.48, 0.51, 0.47, 0.49, 0.46, 0.48, 0.47, 0.49, 0.46, 0.48, 0.46, 0.47, 0.46, 0.48, 0.46,
        0.47, 0.45, 0.44, 0.47, 0.45, 0.47, 0.49, 0.46, 0.47, 0.44, 0.46, 0.44, 0.47, 0.45, 0.47, 0.43,
        0.48, 0.45, 0.48, 0.46, 0.43, 0.47, 0.43, 0.47, 0.45, 0.48, 0.44, 0.47, 0.45, 0.46, 0.44, 0.47,
        0.46, 0.47, 0.49, 0.48, 0.51, 0.50, 0.48, 0.49, 0.47, 0.50, 0.43, 0.44, 0.49, 0.46, 0.50, 0.47,
        0.50, 0.48, 0.49, 0.48, 0.47, 0.44, 0.48, 0.42, 0.48, 0.50, 0.49, 0.47, 0.49, 0.44, 0.48, 0.45,
        0.41, 0.45, 0.47, 0.48, 0.46, 0.45, 0.49, 0.40, 0.43, 0.48, 0.49, 0.48, 0.46, 0.47, 0.45, 0.46,
        0.45, 0.44, 0.38, 0.36, 0.40, 0.47, 0.45, 0.48, 0.46, 0.48, 0.45, 0.48, 0.46, 0.43, 0.47, 0.45,
        0.49, 0.46, 0.48, 0.46, 0.45, 0.46, 0.45, 0.46, 0.44, 0.45, 0.44, 0.47, 0.44, 0.45, 0.48, 0.50,
        0.47, 0.50, 0.46, 0.48, 0.44, 0.45, 0.46, 0.45, 0.47, 0.48, 0.50, 0.52, 0.48, 0.49, 0.47, 0.48,
        0.45, 0.47, 0.43, 0.46, 0.45, 0.46, 0.44, 0.46, 0.45, 0.51, 0.44, 0.46, 0.48, 0.46, 0.48, 0.42,
        0.33, 0.30, 0.29, 0.28, 0.29, 0.37, 0.33, 0.36, 0.38, 0.39, 0.42, 0.43, 0.50, 0.40, 0.44, 0.52,
        0.57, 0.53, 0.57, 0.62, 0.61, 0.75, 0.86, 0.70, 0.68, 0.63, 0.55, 0.53, 0.55, 0.51, 0.53, 0.49,
        0.51, 0.47, 0.48, 0.44, 0.50, 0.46, 0.48, 0.38, 0.42, 0.50, 0.44, 0.40, 0.51, 0.58, 0.52, 0.44,
        0.38, 0.41, 0.44, 0.39, 0.46, 0.55, 0.42, 0.54, 0.46, 0.42, 0.40, 0.42, 0.38, 0.37, 0.35, 0.38,
        0.40, 0.45, 0.35, 0.30, 0.41, 0.49, 0.44]

wavelengths = [wl_a, wl_b, wl_c, wl_d, wl_e, wl_f]
fluxes = [fl_a, fl_b, fl_c, fl_d, fl_e, fl_f]

# ---- figure ----
serif = ["DejaVu Serif"]
mono = ["Liberation Mono", "DejaVu Serif"]
fig = plt.figure(figsize=(13.9, 13.2), dpi=100)

lefts = [0.0712, 0.5304]
widths = [0.4417, 0.4247]
bottoms = [0.7169, 0.3980, 0.0793]
height = 0.2477

for i in range(6):
    row, col = divmod(i, 2)
    ax = fig.add_axes([lefts[col], bottoms[row], widths[col], height])
    ax.plot(wavelengths[i], fluxes[i], color="black", lw=0.9)
    ax.set_title(names[i], fontsize=16, family=serif, pad=12)

    lo, hi = xlims[i]
    ticks = [t for t in range(4000, 9001, 1000) if lo <= t <= hi]
    ax.set_xticks(ticks)
    ax.set_xticklabels([str(t) if t in xticklabels[i] else "" for t in ticks], family=serif)
    ax.xaxis.set_minor_locator(MultipleLocator(200))
    ax.set_yticks([0, 1])
    ax.set_yticklabels([])
    ax.yaxis.set_minor_locator(MultipleLocator(0.1))
    ax.set_xlim(lo, hi)
    ax.set_ylim(0, 1)

    ax.tick_params(which="both", direction="in", top=True, right=True, width=0.8)
    ax.tick_params(which="major", length=12, labelsize=17, pad=6)
    ax.tick_params(which="minor", length=6)
    ax.tick_params(axis="y", which="major", length=0)
    ax.tick_params(axis="y", which="minor", length=7)

    # y labels 0 and 1 sit on the frame corners, as in the original
    if col == 0:
        ax.text(-0.016, 0.008, "0", transform=ax.transAxes, ha="right", va="center",
                fontsize=17, family=serif)
        ax.text(-0.016, 0.99, "1", transform=ax.transAxes, ha="right", va="center",
                fontsize=17, family=serif)
    for s in ax.spines.values():
        s.set_linewidth(0.9)

fig.text(0.018, 0.545, r"f$_\lambda$ (arbitrary units)", rotation=90, ha="center", va="center",
         fontsize=22, family=mono)
fig.text(0.496, 0.0174, "Wavelength (\u00c5)", ha="center", va="center", fontsize=22, family=mono)

fig.savefig("out.png", dpi=100)
